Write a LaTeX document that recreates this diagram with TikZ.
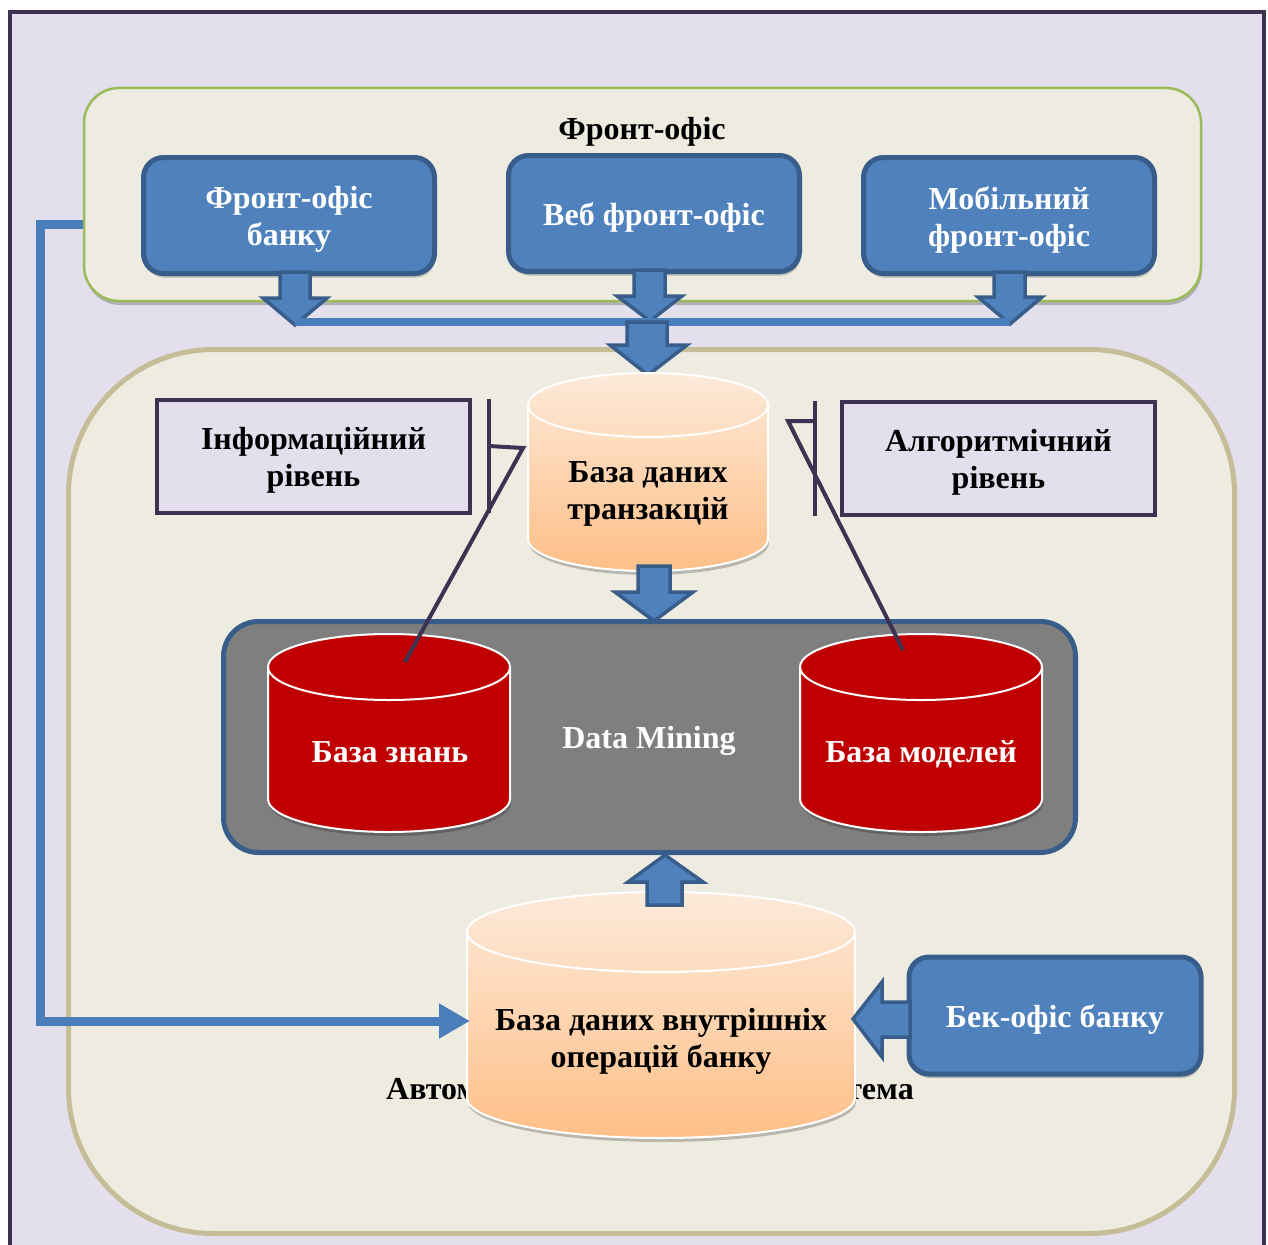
\documentclass[tikz,border=0pt]{standalone}
\usepackage{fontspec}
\setmainfont{Liberation Serif}
\usetikzlibrary{arrows.meta,shadows,calc}

\definecolor{framebg}{HTML}{E4DFEC}
\definecolor{frameline}{HTML}{3F3151}
\definecolor{panel}{HTML}{EEECE1}
\definecolor{panelgreen}{HTML}{9BBB59}
\definecolor{paneltan}{HTML}{C4BD97}
\definecolor{boxblue}{HTML}{4F81BD}
\definecolor{boxedge}{HTML}{385D8A}
\definecolor{linkblue}{HTML}{4A7EBB}
\definecolor{dmgray}{HTML}{7F7F7F}
\definecolor{dbred}{HTML}{C00000}
\definecolor{peachtop}{HTML}{FDEADA}
\definecolor{peachbot}{HTML}{FFBF87}

\tikzset{
  txt/.style={font=\fontsize{32}{37}\selectfont\bfseries, align=center, inner sep=0pt, yshift=-4pt},
  wtxt/.style={txt, text=white},
  softshadow/.style={drop shadow={fill=black, opacity=0.22, shadow xshift=1pt, shadow yshift=-4pt}},
  bluebox/.style={draw=boxedge, fill=boxblue, line width=5pt, rounded corners=20pt, softshadow},
  levelbox/.style={draw=frameline, fill=framebg, line width=4pt,
    minimum width=313pt, minimum height=113pt},
  blockarrow/.style={draw=boxedge, fill=boxblue, line width=3.5pt, line join=miter},
  callout/.style={draw=frameline, line width=4pt},
  conn/.style={draw=linkblue, line width=9pt, line join=miter},
  peachdb/.style={draw=white, line width=2pt, top color=peachtop, bottom color=peachbot, softshadow},
  reddb/.style={draw=white, line width=2pt, fill=dbred, softshadow},
  rim/.style={draw=white, line width=2pt},
}

\begin{document}
\begin{tikzpicture}[x=1pt,y=-1pt]
\useasboundingbox (0,0) rectangle (1268,1244);
\clip (0,0) rectangle (1268,1244);
\fill[white] (0,0) rectangle (1268,1244);

% outer frame
\draw[draw=frameline, fill=framebg, line width=4pt] (10,12) rectangle (1264,1300);

% front-office panel
\node[draw=panelgreen, fill=panel, line width=2.5pt, rounded corners=35pt,
      minimum width=1117pt, minimum height=213pt, softshadow] (front) at (642.5,194.5) {};
\node[txt] (fronttitle) at (642,128) {Фронт-офіс};

% main system panel
\node[draw=paneltan, fill=panel, line width=5pt, rounded corners=145pt,
      minimum width=1166pt, minimum height=884pt] (main) at (651.5,791.5) {};

% caption under the internal operations database
\node[txt, yshift=4pt] (ais) at (650,1088) {Автоматизована банківська система};

% front-office channels
\node[bluebox, minimum width=291pt, minimum height=116pt] (fo1) at (289,215.5) {};
\node[wtxt] (fo1t) at (fo1) {Фронт-офіс\\банку};
\node[bluebox, minimum width=291pt, minimum height=116pt] (fo2) at (654,213.5) {};
\node[wtxt] (fo2t) at (fo2) {Веб фронт-офіс};
\node[bluebox, minimum width=291pt, minimum height=116pt] (fo3) at (1009,215.5) {};
\node[wtxt] (fo3t) at (fo3) {Мобільний\\фронт-офіс};

% arrows from channels down to the collecting bar
\path[blockarrow] (280,272) -- (310,272) -- (310,298) -- (327,298) -- (295,325) -- (263,298) -- (280,298) -- cycle;
\path[blockarrow] (634,270) -- (665,270) -- (665,296) -- (682,296) -- (650,321) -- (617,296) -- (634,296) -- cycle;
\path[blockarrow] (994,272) -- (1025,272) -- (1025,297) -- (1042,297) -- (1010,324) -- (978,297) -- (994,297) -- cycle;

% collecting bar
\coordinate (barL) at (295,322);
\coordinate (barR) at (1010,322);
\draw[draw=linkblue, line width=8pt] (barL) -- (barR);

% arrow into the transactions database
\path[blockarrow] (627,322) -- (667,322) -- (667,345) -- (687,345) -- (648,375) -- (610,345) -- (627,345) -- cycle;

% transactions database
\path[peachdb] (528,405) -- (528,539) arc[start angle=180,end angle=360,x radius=120pt,y radius=32pt]
  -- (768,405) arc[start angle=0,end angle=180,x radius=120pt,y radius=32pt] -- cycle;
\draw[rim] (528,405) arc[start angle=180,end angle=360,x radius=120pt,y radius=32pt];
\node[txt] (tdb) at (648,489.5) {База даних\\транзакцій};

% arrow from transactions database to Data Mining
\path[blockarrow] (638,566) -- (670,566) -- (670,592) -- (693,592) -- (654,621) -- (615,592) -- (638,592) -- cycle;

% level boxes
\node[levelbox] (info) at (313.5,456.5) {};
\node[txt] (infot) at (info) {Інформаційний\\рівень};
\node[levelbox] (algo) at (998.5,458.5) {};
\node[txt] (algot) at (algo) {Алгоритмічний\\рівень};

% Data Mining block
\node[draw=boxedge, fill=dmgray, line width=5pt, rounded corners=35pt,
      minimum width=852pt, minimum height=231pt] (dm) at (649.5,737) {};
\node[wtxt] (dmlabel) at (649,737) {Data Mining};

% knowledge base
\path[reddb] (268,667) -- (268,799) arc[start angle=180,end angle=360,x radius=121pt,y radius=33pt]
  -- (510,667) arc[start angle=0,end angle=180,x radius=121pt,y radius=33pt] -- cycle;
\draw[rim] (268,667) arc[start angle=180,end angle=360,x radius=121pt,y radius=33pt];
\node[wtxt, yshift=3pt] (kb) at (390,751) {База знань};

% model base
\path[reddb] (800,667) -- (800,799) arc[start angle=180,end angle=360,x radius=121pt,y radius=33pt]
  -- (1042,667) arc[start angle=0,end angle=180,x radius=121pt,y radius=33pt] -- cycle;
\draw[rim] (800,667) arc[start angle=180,end angle=360,x radius=121pt,y radius=33pt];
\node[wtxt] (mb) at (921,750) {База моделей};

% internal operations database
\path[peachdb] (467,932) -- (467,1098) arc[start angle=180,end angle=360,x radius=194pt,y radius=40pt]
  -- (855,932) arc[start angle=0,end angle=180,x radius=194pt,y radius=40pt] -- cycle;
\draw[rim] (467,932) arc[start angle=180,end angle=360,x radius=194pt,y radius=40pt];
\node[txt] (idb) at (661,1037) {База даних внутрішніх\\операцій банку};
\coordinate (idbin) at (470,1021);

% arrow from internal operations database up to Data Mining
\path[blockarrow] (647,905) -- (682,905) -- (682,882) -- (703,882) -- (665,855) -- (628,882) -- (647,882) -- cycle;

% back office
\node[bluebox, minimum width=292pt, minimum height=117pt] (bo) at (1055,1015.5) {};
\node[wtxt] (bot) at (bo) {Бек-офіс банку};
\path[blockarrow] (910,1002) -- (882,1002) -- (882,982) -- (853,1019) -- (882,1057) -- (882,1037) -- (910,1037) -- cycle;

% link from the front office to the internal operations database
\coordinate (bend) at (40,224);
\draw[conn, -{Triangle[length=31pt,width=33pt]}] (front.west |- bend) -- (bend) |- (idbin);

% level callouts
\coordinate (infoA) at (489,446);
\coordinate (infoB) at (523,448);
\coordinate (infoC) at (405,662);
\draw[callout] (489,399) -- (489,513);
\draw[callout] (infoA) -- (infoB) -- (infoC);
\coordinate (algoA) at (815,421);
\coordinate (algoB) at (788,421);
\coordinate (algoC) at (903,650);
\draw[callout] (815,401) -- (815,516);
\draw[callout] (algoA) -- (algoB) -- (algoC);
\end{tikzpicture}
\end{document}
